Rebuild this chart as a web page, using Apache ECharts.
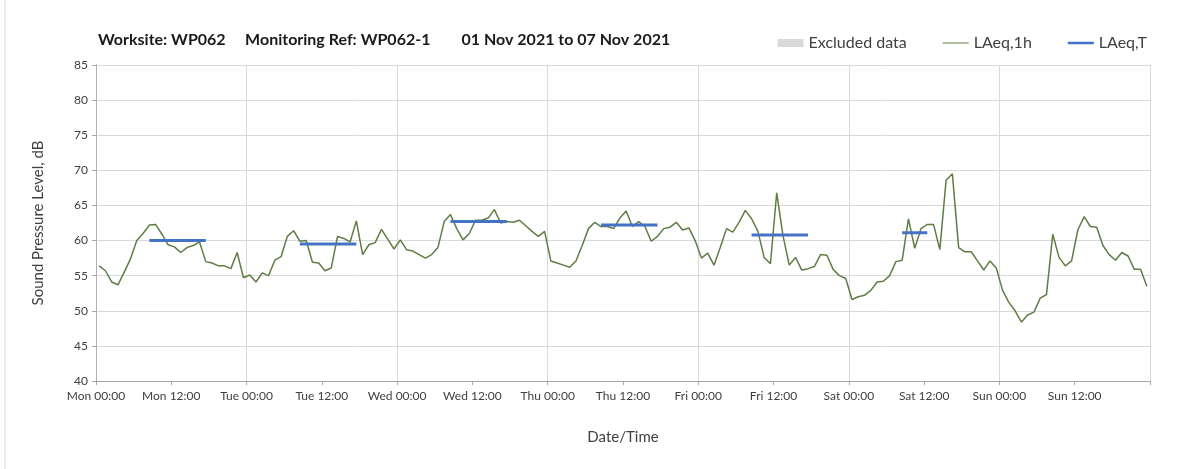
<!DOCTYPE html>
<html>
<head>
<meta charset="utf-8">
<script src="https://cdn.jsdelivr.net/npm/echarts@6/dist/echarts.min.js"></script>
<style>
  html, body { margin: 0; padding: 0; background: #fff; }
  #main { width: 1203px; height: 469px; }
</style>
</head>
<body>
<div id="main"></div>
<script>
// hourly LAeq,1h values, Mon 00:00 -> Sun 23:00
var laeq1h = [
  56.4, 55.7, 54.1, 53.7, 55.5, 57.4, 60.0, 61.0, 62.2, 62.3, 60.9, 59.4,
  59.1, 58.3, 59.0, 59.3, 59.8, 57.0, 56.8, 56.4, 56.4, 56.0, 58.3, 54.7,
  55.1, 54.1, 55.4, 55.0, 57.2, 57.7, 60.6, 61.4, 59.9, 60.0, 56.9, 56.8,
  55.7, 56.1, 60.6, 60.3, 59.8, 62.8, 58.0, 59.4, 59.7, 61.6, 60.2, 58.8,
  60.1, 58.7, 58.5, 58.0, 57.5, 58.0, 59.0, 62.7, 63.7, 61.7, 60.1, 61.0,
  62.9, 62.9, 63.2, 64.4, 62.5, 62.7, 62.6, 62.9, 62.1, 61.3, 60.6, 61.3,
  57.1, 56.8, 56.5, 56.2, 57.1, 59.3, 61.7, 62.6, 62.0, 62.0, 61.7, 63.2,
  64.2, 62.0, 62.7, 62.0, 59.9, 60.6, 61.7, 61.9, 62.6, 61.5, 61.8, 60.0,
  57.5, 58.2, 56.5, 59.0, 61.7, 61.2, 62.6, 64.3, 63.1, 61.3, 57.6, 56.7,
  66.8, 60.7, 56.5, 57.6, 55.8, 56.0, 56.3, 58.0, 57.9, 55.9, 55.0, 54.6,
  51.6, 52.0, 52.2, 52.9, 54.1, 54.2, 55.0, 57.0, 57.2, 63.1, 58.9, 61.7,
  62.3, 62.3, 58.7, 68.6, 69.5, 59.0, 58.4, 58.4, 57.1, 55.8, 57.1, 56.1,
  52.9, 51.2, 50.0, 48.4, 49.4, 49.8, 51.8, 52.3, 60.9, 57.6, 56.4, 57.1,
  61.5, 63.4, 62.0, 61.9, 59.3, 58.0, 57.2, 58.3, 57.8, 55.9, 55.9, 53.5
];

// LAeq,T daytime periods (hours from Mon 00:00)
var periodStart = [8, 32, 56, 80, 104, 128];
var periodEnd = [18, 42, 66, 90, 114, 133];
var laeqT = [60.0, 59.5, 62.7, 62.2, 60.8, 61.1];

var dayNames = ['Mon', 'Tue', 'Wed', 'Thu', 'Fri', 'Sat', 'Sun'];
var hourLabels = ['00:00', '12:00'];

var myChart = echarts.init(document.getElementById('main'));

var font = 'Lato, "Open Sans", sans-serif';

// legend line icons: thin bar inside an 26x8 box (corner specks keep the box size)
var thinLine = 'path://M0,0H0.01V0.01H0Z M0,3.4H26V4.6H0Z M25.99,7.99H26V8H25.99Z';
var thickLine = 'path://M0,0H0.01V0.01H0Z M0,2.8H26V5.2H0Z M25.99,7.99H26V8H25.99Z';

var lineData = laeq1h.map(function (v, i) { return [i + 0.5, v]; });

var seriesArr = [
  {
    name: 'Excluded data',
    type: 'bar',
    data: [],
    itemStyle: { color: '#d9d9d9' }
  },
  {
    name: 'LAeq,1h',
    type: 'line',
    data: lineData,
    symbol: 'none',
    lineStyle: { color: '#5e7d43', width: 1.5 },
    itemStyle: { color: '#5e7d43' },
    z: 3
  }
];

laeqT.forEach(function (v, i) {
  seriesArr.push({
    name: 'LAeq,T',
    type: 'line',
    data: [[periodStart[i] + 0.5, v], [periodEnd[i] - 0.5, v]],
    symbol: 'none',
    lineStyle: { color: '#4472c4', width: 3 },
    itemStyle: { color: '#4472c4' },
    z: 4
  });
});

var option = {
  backgroundColor: '#fff',
  animation: false,
  textStyle: { fontFamily: font },
  title: {
    text: 'Worksite: WP062     Monitoring Ref: WP062-1        01 Nov 2021 to 07 Nov 2021',
    left: 93,
    top: 27,
    textStyle: { fontSize: 16, fontWeight: 'bold', color: '#1a1a1a', fontFamily: font }
  },
  legend: {
    data: [
      { name: 'Excluded data', icon: 'rect' },
      { name: 'LAeq,1h', icon: thinLine },
      { name: 'LAeq,T', icon: thickLine }
    ],
    right: 51,
    top: 30,
    itemWidth: 26,
    itemHeight: 8,
    itemGap: 36,
    textStyle: { fontSize: 16, color: '#404040', fontFamily: font }
  },
  graphic: [
    {
      type: 'line',
      shape: { x1: 5, y1: 0, x2: 5, y2: 469 },
      style: { stroke: '#d9d9d9', lineWidth: 1 }
    }
  ],
  grid: { left: 96, right: 53, top: 65, bottom: 88 },
  xAxis: [
    {
      type: 'value',
      min: 0,
      max: 168,
      interval: 12,
      name: 'Date/Time',
      nameLocation: 'middle',
      nameGap: 49,
      nameTextStyle: { fontSize: 15, color: '#404040' },
      axisLine: { show: true, lineStyle: { color: '#a6a6a6' } },
      axisTick: { show: true, length: 4, lineStyle: { color: '#a6a6a6' } },
      axisLabel: {
        fontSize: 12,
        color: '#404040',
        margin: 9,
        formatter: function (v) {
          var d = Math.floor(v / 24);
          if (d >= dayNames.length) return '';
          return dayNames[d] + ' ' + hourLabels[(v % 24) / 12];
        }
      },
      splitLine: { show: false }
    },
    {
      type: 'value',
      min: 0,
      max: 168,
      interval: 24,
      position: 'bottom',
      axisLine: { show: false },
      axisTick: { show: false },
      axisLabel: { show: false },
      splitLine: { show: true, lineStyle: { color: '#d9d9d9', width: 1 } }
    }
  ],
  yAxis: [
    {
      type: 'value',
      min: 40,
      max: 85,
      interval: 5,
      name: 'Sound Pressure Level, dB',
      nameLocation: 'middle',
      nameGap: 50,
      nameTextStyle: { fontSize: 15, color: '#404040' },
      axisLine: { show: true, lineStyle: { color: '#a6a6a6' } },
      axisTick: { show: true, length: 4, lineStyle: { color: '#a6a6a6' } },
      axisLabel: { fontSize: 12, color: '#404040', margin: 8 },
      splitLine: { show: true, lineStyle: { color: '#d9d9d9', width: 1 } }
    },
    {
      type: 'value',
      min: 40,
      max: 85,
      interval: 5,
      position: 'right',
      axisLine: { show: true, lineStyle: { color: '#b0b0b0' } },
      axisTick: { show: false },
      axisLabel: { show: false },
      splitLine: { show: false }
    }
  ],
  series: seriesArr
};

myChart.setOption(option);
</script>
</body>
</html>
